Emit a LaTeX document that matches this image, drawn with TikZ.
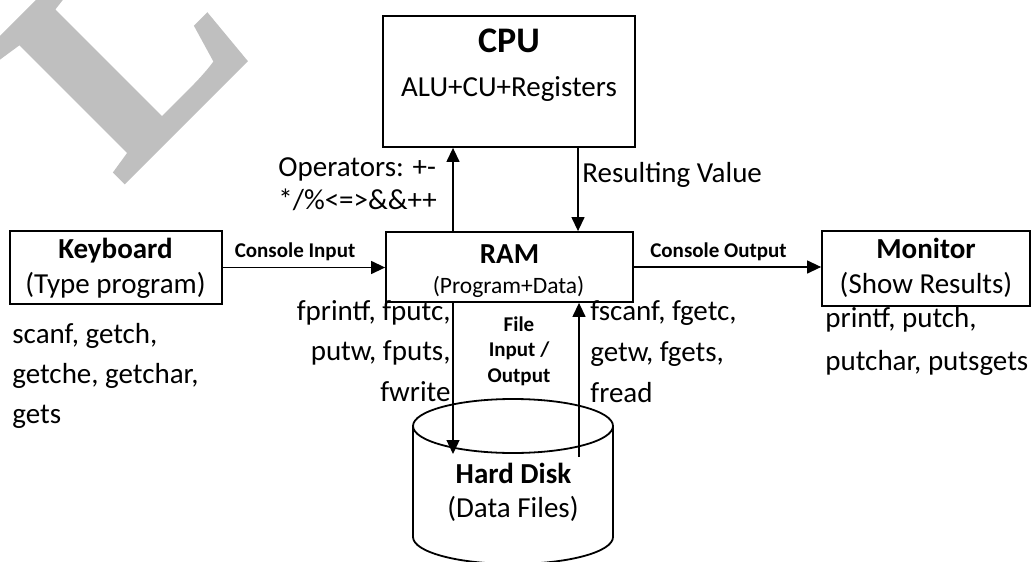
\documentclass[tikz,border=0pt]{standalone}
\usepackage{fontspec}
\setmainfont{Carlito}
\newfontfamily\wmfont[FakeBold=2.5]{Liberation Serif Bold}
\usetikzlibrary{arrows.meta}
\begin{document}
\begin{tikzpicture}[x=0.5pt,y=-0.5pt,
  box/.style={draw, line width=0.9pt, inner sep=0pt},
  txt/.style={inner sep=0pt, font=\fontsize{14.5}{18}\selectfont},
  bold/.style={inner sep=0pt, font=\fontsize{14.5}{18}\selectfont\bfseries},
  small/.style={inner sep=0pt, font=\fontsize{10.5}{12}\selectfont\bfseries},
  flow/.style={line width=0.65pt, -{Triangle[width=6.5pt,length=7pt]}},
  disk/.style={line width=0.9pt},
]
\useasboundingbox (0,0) rectangle (1036,561);

% faint background lettering
\node[inner sep=0pt, rotate=45, anchor=base west, text=black!25,
      font=\wmfont\fontsize{142}{142}\selectfont] (wm) at (121,183) {L};

% boxes
\node[box, minimum width=126pt, minimum height=65.5pt] (cpu) at (509,81.5) {};
\node[box, minimum width=123.5pt, minimum height=35pt] (ram) at (509.5,267) {};
\node[box, minimum width=106pt, minimum height=36.5pt] (kbd) at (116,267.5) {};
\node[box, minimum width=104pt, minimum height=37.5pt] (mon) at (926,268.5) {};

% hard disk cylinder
\draw[disk] (413,426) -- (413,537)
  .. controls (413,551.9) and (457.8,564) .. (513,564)
  .. controls (568.2,564) and (613,551.9) .. (613,537) -- (613,426);
\draw[disk] (513,426) ellipse [x radius=50pt, y radius=13.5pt];
\coordinate (disk) at (513,480);

% box texts
\node[bold, font=\fontsize{18}{20}\selectfont\bfseries, anchor=base] (cputitle) at (509,53) {CPU};
\node[txt, anchor=base] (cpusub) at (509,97) {ALU+CU+Registers};
\node[bold, anchor=base] (ramtitle) at (509.5,263) {RAM};
\node[txt, font=\fontsize{11.75}{14}\selectfont, anchor=base] (ramsub) at (508.5,293) {(Program+Data)};
\node[bold, anchor=base] (kbdtitle) at (115.5,258) {Keyboard};
\node[txt, anchor=base] (kbdsub) at (115.5,293) {(Type program)};
\node[bold, anchor=base] (montitle) at (926,258) {Monitor};
\node[txt, anchor=base] (monsub) at (926,293) {(Show Results)};
\node[bold, anchor=base] (disktitle) at (513.5,483) {Hard Disk};
\node[txt, anchor=base] (disksub) at (513,517) {(Data Files)};

% connectors
\coordinate (opx) at (453,0);
\coordinate (resx) at (578,0);
\coordinate (wr) at (453,454);
\coordinate (rd) at (579,457);
\draw[flow] (kbd.east) -- (kbd.east -| ram.west);
\draw[flow] (ram.east) -- (ram.east -| mon.west);
\draw[flow] (ram.north -| opx) -- (cpu.south -| opx);
\draw[flow] (cpu.south -| resx) -- (ram.north -| resx);
\draw[flow] (ram.south -| wr) -- (wr);
\draw[flow] (rd) -- (ram.south -| rd);

% connector labels
\node[small, anchor=base] (cin) at (295,257) {Console Input};
\node[small, anchor=base] (cout) at (718.5,257) {Console Output};
\node[small, align=center, font=\fontsize{10.5}{12.75}\selectfont\bfseries,
      anchor=north] (fio) at (519,316) {File\\Input /\\Output};
\node[txt, align=left, font=\fontsize{14.5}{16.5}\selectfont,
      anchor=north west] (ops) at (278,157) {Operators: +-\\*/\%<=>\&\&++};
\node[txt, anchor=base west] (res) at (582,183) {Resulting Value};

% function lists
\node[txt, anchor=base west] (kl1) at (12,343) {scanf, getch,};
\node[txt, anchor=base west] (kl2) at (12,383) {getche, getchar,};
\node[txt, anchor=base west] (kl3) at (12,423) {gets};
\node[txt, anchor=base east] (wl1) at (451,320) {fprintf, fputc,};
\node[txt, anchor=base east] (wl2) at (451,360) {putw, fputs,};
\node[txt, anchor=base east] (wl3) at (451,401) {fwrite};
\node[txt, anchor=base west] (rl1) at (590,320) {fscanf, fgetc,};
\node[txt, anchor=base west] (rl2) at (590,361) {getw, fgets,};
\node[txt, anchor=base west] (rl3) at (590,402) {fread};
\node[txt, anchor=base west] (ml1) at (825,327) {printf, putch,};
\node[txt, anchor=base west] (ml2) at (825,370) {putchar, putsgets};
\end{tikzpicture}
\end{document}
